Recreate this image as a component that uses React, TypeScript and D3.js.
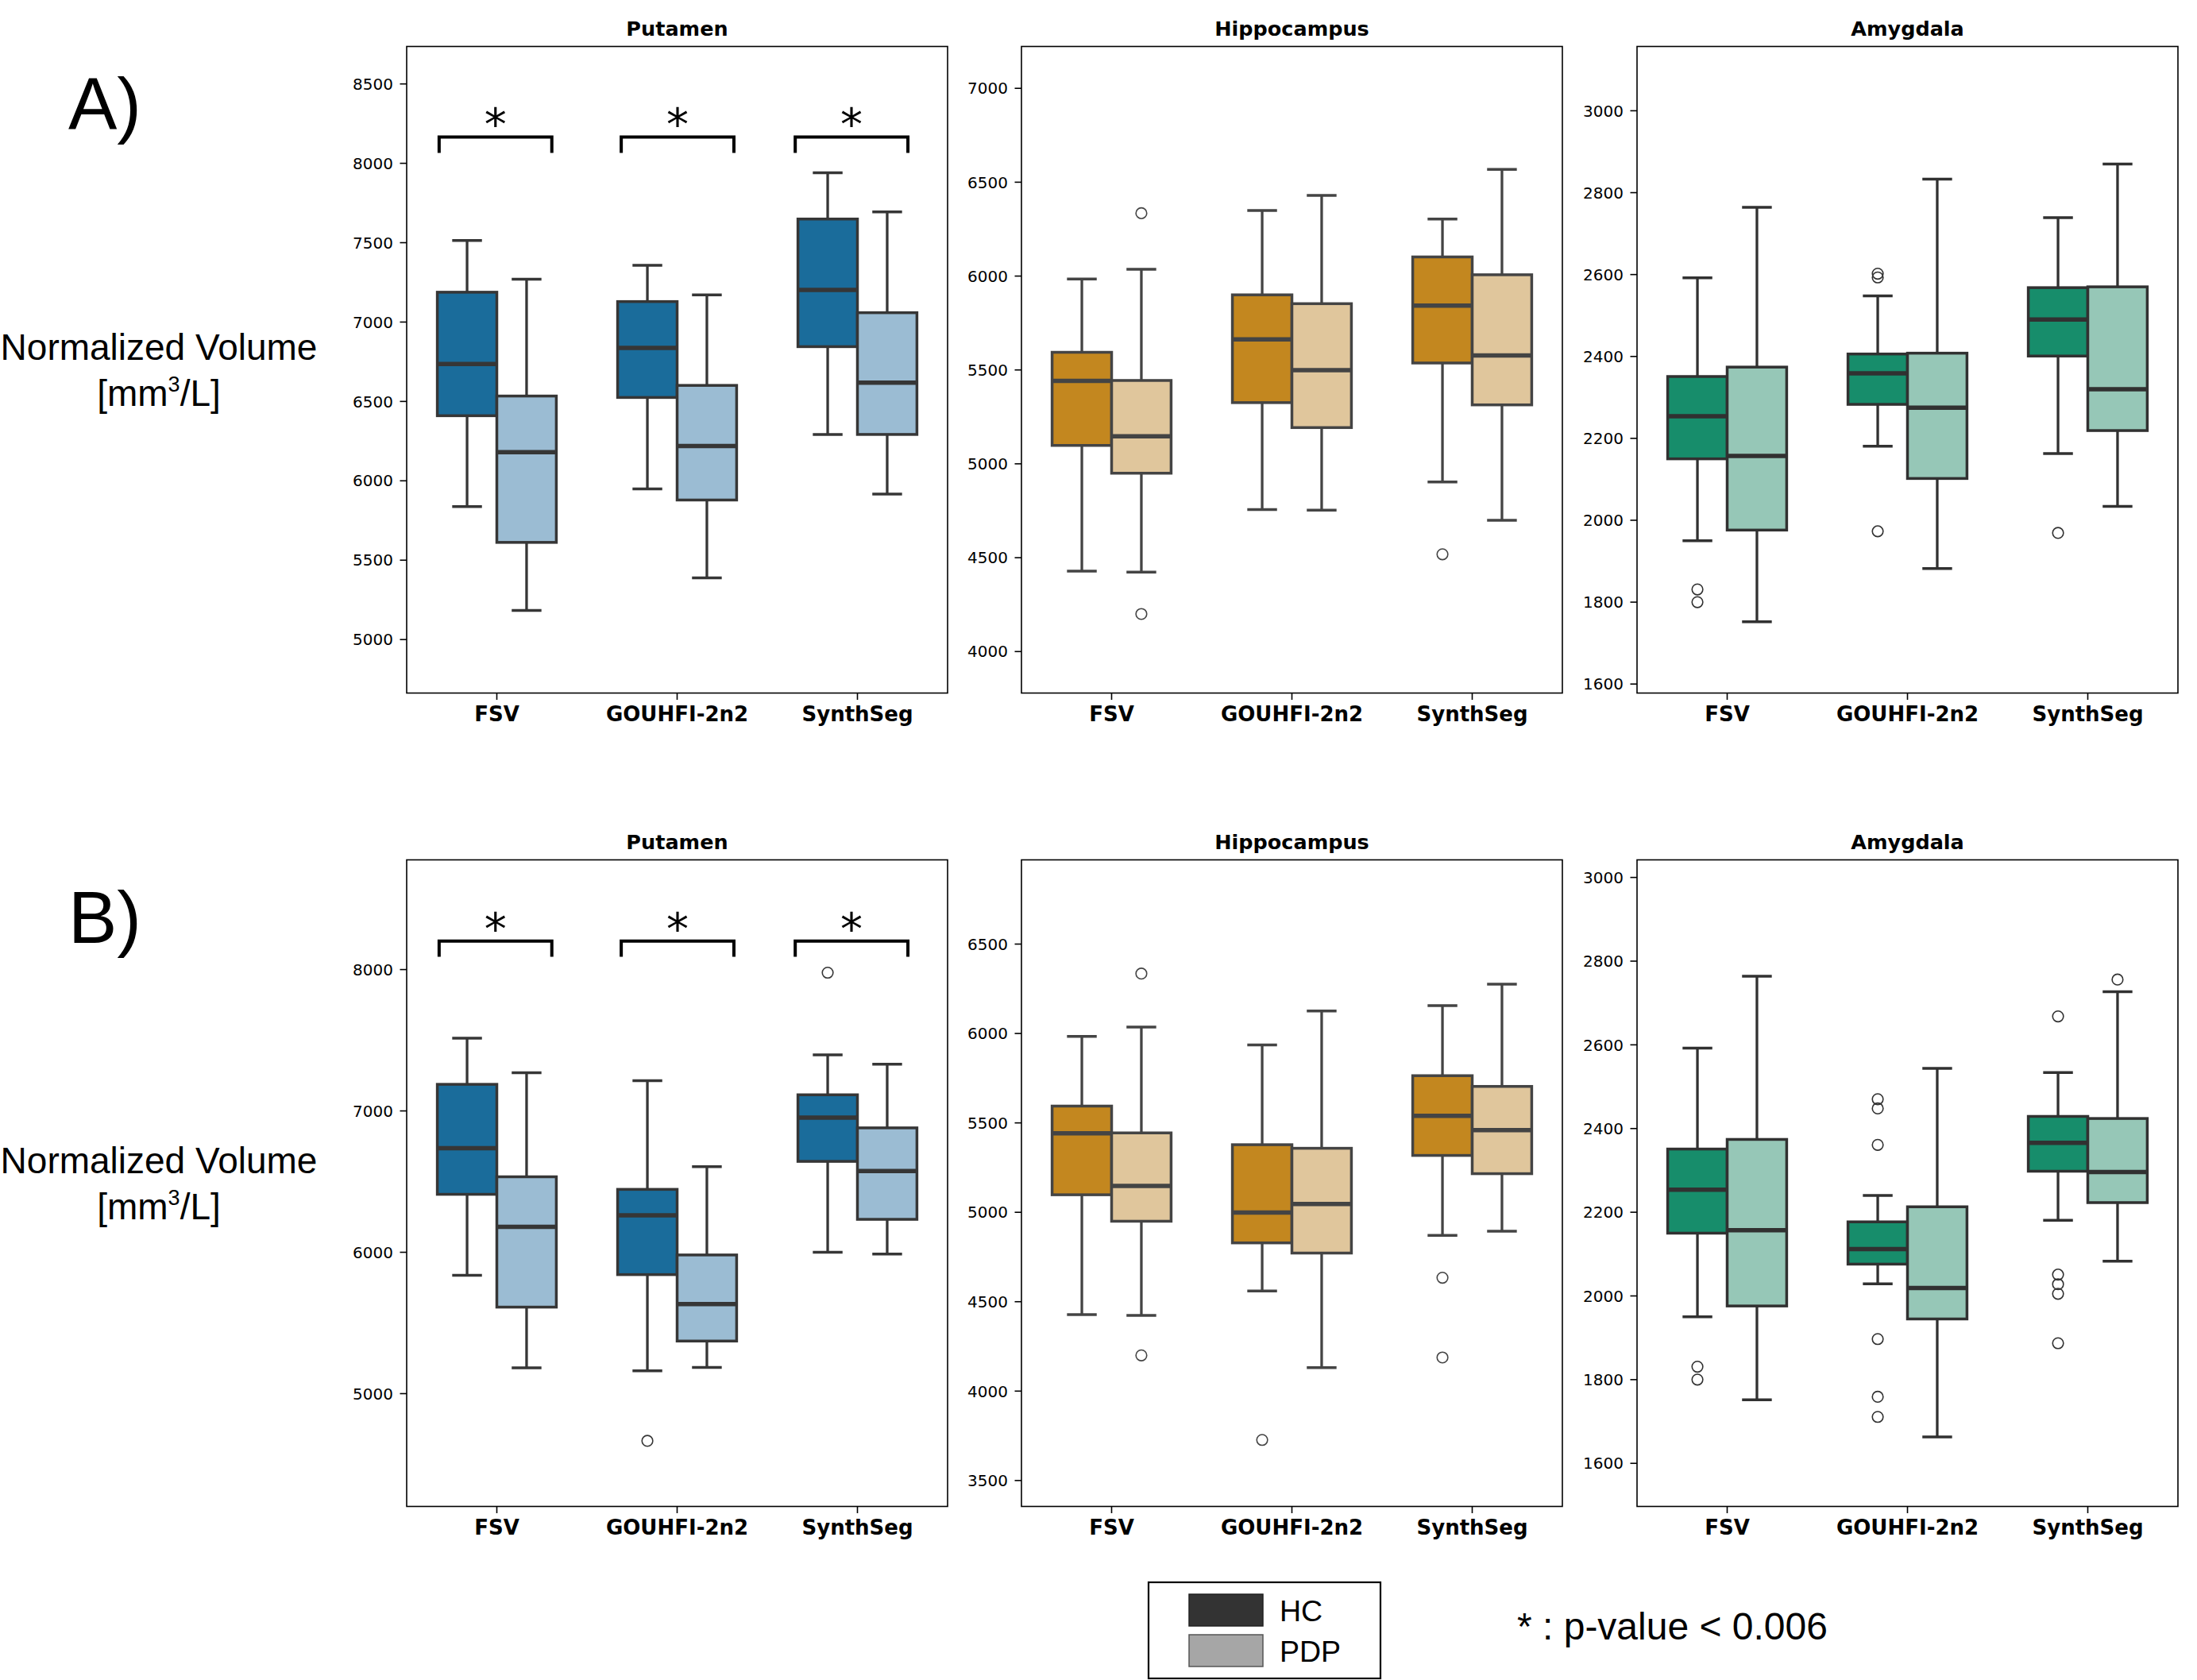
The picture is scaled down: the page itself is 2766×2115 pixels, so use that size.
import { useEffect, useRef } from 'react'
import * as d3 from 'd3'

const methods = ['FSV', 'GOUHFI-2n2', 'SynthSeg']
const groups = ['HC', 'PDP']
const regions = ['Putamen', 'Hippocampus', 'Amygdala']
const rowLabels = ['A)', 'B)']

// five-number summaries: [lower whisker, Q1, median, Q3, upper whisker], one per method
const putamenA_HC = [[5837, 6410, 6736, 7188, 7514], [5949, 6525, 6837, 7129, 7357], [6292, 6845, 7202, 7649, 7941]]
const putamenA_PDP = [[5183, 5612, 6180, 6534, 7270], [5388, 5879, 6219, 6601, 7171], [5916, 6292, 6618, 7059, 7694]]
const putamenA_HC_out = [[], [], []]
const putamenA_PDP_out = [[], [], []]

const hippoA_HC = [[4428, 5098, 5442, 5594, 5984], [4756, 5326, 5663, 5900, 6349], [4903, 5537, 5843, 6102, 6304]]
const hippoA_PDP = [[4423, 4950, 5147, 5444, 6036], [4753, 5193, 5499, 5853, 6430], [4699, 5314, 5577, 6007, 6568]]
const hippoA_HC_out = [[], [], [4518]]
const hippoA_PDP_out = [[6335, 4200], [], []]

const amygA_HC = [[1950, 2150, 2254, 2351, 2592], [2181, 2283, 2359, 2406, 2548], [2163, 2401, 2490, 2568, 2739]]
const amygA_PDP = [[1752, 1976, 2157, 2374, 2764], [1882, 2102, 2275, 2408, 2833], [2034, 2219, 2320, 2570, 2870]]
const amygA_HC_out = [[1831, 1800], [2602, 2593, 1973], [1969]]
const amygA_PDP_out = [[], [], []]

const putamenB_HC = [[5837, 6410, 6736, 7188, 7514], [5161, 5842, 6262, 6445, 7214], [6000, 6643, 6953, 7114, 7397]]
const putamenB_PDP = [[5183, 5612, 6180, 6534, 7270], [5186, 5372, 5634, 5981, 6606], [5987, 6233, 6574, 6880, 7331]]
const putamenB_HC_out = [[], [4666], [7978]]
const putamenB_PDP_out = [[], [], []]

const hippoB_HC = [[4428, 5098, 5442, 5594, 5984], [4560, 4829, 4999, 5378, 5936], [4871, 5318, 5540, 5764, 6156]]
const hippoB_PDP = [[4423, 4950, 5147, 5444, 6036], [4131, 4772, 5046, 5358, 6126], [4894, 5216, 5460, 5704, 6276]]
const hippoB_HC_out = [[], [3727], [4634, 4188]]
const hippoB_PDP_out = [[6335, 4200], [], []]

const amygB_HC = [[1950, 2150, 2254, 2351, 2592], [2029, 2076, 2112, 2177, 2240], [2181, 2298, 2366, 2429, 2534]]
const amygB_PDP = [[1752, 1976, 2157, 2374, 2764], [1663, 1945, 2019, 2213, 2544], [2083, 2223, 2296, 2424, 2727]]
const amygB_HC_out = [[1831, 1800], [2470, 2448, 2361, 1897, 1759, 1711], [2668, 2051, 2028, 2005, 1887]]
const amygB_PDP_out = [[], [], [2756]]

// y limits and ticks per panel
const yLimA = [[4663, 8736], [3779, 7223], [1578, 3157]]
const yLimB = [[4202, 8776], [3355, 6971], [1497, 3042]]
const yTicksA = [
  [5000, 5500, 6000, 6500, 7000, 7500, 8000, 8500],
  [4000, 4500, 5000, 5500, 6000, 6500, 7000],
  [1600, 1800, 2000, 2200, 2400, 2600, 2800, 3000],
]
const yTicksB = [
  [5000, 6000, 7000, 8000],
  [3500, 4000, 4500, 5000, 5500, 6000, 6500],
  [1600, 1800, 2000, 2200, 2400, 2600, 2800, 3000],
]

// significance brackets on Putamen: [leg bottom, bar top], and x extent around each method
const bracketA = [8065, 8166]
const bracketB = [8091, 8202]
const bracketSpan = [[-0.32, 0.305], [-0.31, 0.315], [-0.345, 0.28]]
const sigNote = '* : p-value < 0.006'

const regionColors = [['#1a6c9b', '#9bbcd3'], ['#c3871f', '#e0c69c'], ['#178d6b', '#96c7b7']]
const regionLine = ['#363636', '#444444', '#313131']

export default function App() {
  const svgRef = useRef(null)

  useEffect(() => {
    if (!svgRef.current) return
    const root = d3.select(svgRef.current)
    root.selectAll('*').remove()

    const colLeft = [512, 1286, 2061]
    const rowTop = [58.5, 1082.5]
    const rowShift = 1024
    const pw = 681
    const ph = 814
    const boxW = 0.33

    const rows = [
      {
        stats: [[putamenA_HC, putamenA_PDP], [hippoA_HC, hippoA_PDP], [amygA_HC, amygA_PDP]],
        outs: [[putamenA_HC_out, putamenA_PDP_out], [hippoA_HC_out, hippoA_PDP_out], [amygA_HC_out, amygA_PDP_out]],
        lims: yLimA, ticks: yTicksA, bracket: bracketA,
      },
      {
        stats: [[putamenB_HC, putamenB_PDP], [hippoB_HC, hippoB_PDP], [amygB_HC, amygB_PDP]],
        outs: [[putamenB_HC_out, putamenB_PDP_out], [hippoB_HC_out, hippoB_PDP_out], [amygB_HC_out, amygB_PDP_out]],
        lims: yLimB, ticks: yTicksB, bracket: bracketB,
      },
    ]

    root.append('rect').attr('width', 2766).attr('height', 2115).attr('fill', '#fff')

    rows.forEach((row, r) => {
      // row label and y-axis title
      root.append('text')
        .attr('x', 86).attr('y', 163 + r * rowShift)
        .attr('font-family', 'Liberation Sans, Arial, sans-serif')
        .attr('font-size', 92).attr('fill', '#000')
        .text(rowLabels[r])

      root.append('text')
        .attr('x', 200).attr('y', 453 + r * rowShift)
        .attr('text-anchor', 'middle')
        .attr('font-family', 'Liberation Sans, Arial, sans-serif')
        .attr('font-size', 46).attr('fill', '#000')
        .text('Normalized Volume')

      const unit = root.append('text')
        .attr('x', 200).attr('y', 511 + r * rowShift)
        .attr('text-anchor', 'middle')
        .attr('font-family', 'Liberation Sans, Arial, sans-serif')
        .attr('font-size', 46).attr('fill', '#000')
      unit.append('tspan').text('[mm')
      unit.append('tspan').attr('font-size', 27).attr('dy', -18).text('3')
      unit.append('tspan').attr('dy', 18).text('/L]')

      regions.forEach((region, c) => {
        const left = colLeft[c]
        const top = rowTop[r]
        const x = d3.scaleLinear().domain([-0.5, 2.5]).range([left, left + pw])
        const y = d3.scaleLinear().domain(row.lims[c]).range([top + ph, top])
        const lineCol = regionLine[c]
        const g = root.append('g')

        // title
        g.append('text')
          .attr('x', left + pw / 2).attr('y', top - 13.5)
          .attr('text-anchor', 'middle')
          .attr('font-family', 'DejaVu Sans, sans-serif')
          .attr('font-weight', 'bold').attr('font-size', 25.5)
          .text(region)

        // boxes
        groups.forEach((grp, gi) => {
          const x0 = gi === 0 ? -boxW : 0
          const fill = regionColors[c][gi]
          row.stats[c][gi].forEach((s, mi) => {
            const [lo, q1, med, q3, hi] = s
            const xl = x(mi + x0)
            const xr = x(mi + x0 + boxW)
            const xc = x(mi + x0 + boxW / 2)
            const capHalf = (xr - xl) / 4

            g.append('line').attr('x1', xc).attr('x2', xc).attr('y1', y(q3)).attr('y2', y(hi))
              .attr('stroke', lineCol).attr('stroke-width', 3.3)
            g.append('line').attr('x1', xc).attr('x2', xc).attr('y1', y(q1)).attr('y2', y(lo))
              .attr('stroke', lineCol).attr('stroke-width', 3.3)
            g.append('line').attr('x1', xc - capHalf).attr('x2', xc + capHalf).attr('y1', y(hi)).attr('y2', y(hi))
              .attr('stroke', lineCol).attr('stroke-width', 3.5)
            g.append('line').attr('x1', xc - capHalf).attr('x2', xc + capHalf).attr('y1', y(lo)).attr('y2', y(lo))
              .attr('stroke', lineCol).attr('stroke-width', 3.5)

            g.append('rect')
              .attr('x', xl).attr('y', y(q3))
              .attr('width', xr - xl).attr('height', y(q1) - y(q3))
              .attr('fill', fill).attr('stroke', lineCol).attr('stroke-width', 3.5)

            g.append('line').attr('x1', xl).attr('x2', xr).attr('y1', y(med)).attr('y2', y(med))
              .attr('stroke', lineCol).attr('stroke-width', 5.5)

            row.outs[c][gi][mi].forEach(v => {
              g.append('circle').attr('cx', xc).attr('cy', y(v)).attr('r', 6.8)
                .attr('fill', 'none').attr('stroke', lineCol).attr('stroke-width', 1.6)
            })
          })
        })

        // significance brackets (Putamen only)
        if (c === 0) {
          const [legLow, barTop] = row.bracket
          methods.forEach((m, mi) => {
            const [s0, s1] = bracketSpan[mi]
            const bx1 = x(mi + s0)
            const bx2 = x(mi + s1)
            g.append('path')
              .attr('d', `M${bx1},${y(legLow)}V${y(barTop)}H${bx2}V${y(legLow)}`)
              .attr('fill', 'none').attr('stroke', '#000').attr('stroke-width', 4)
              .attr('stroke-linejoin', 'miter')
            g.append('text')
              .attr('x', (bx1 + bx2) / 2).attr('y', y(barTop) + 4)
              .attr('text-anchor', 'middle')
              .attr('font-family', 'DejaVu Sans, sans-serif')
              .attr('font-size', 56)
              .text('*')
          })
        }

        // frame
        g.append('rect')
          .attr('x', left).attr('y', top).attr('width', pw).attr('height', ph)
          .attr('fill', 'none').attr('stroke', '#000').attr('stroke-width', 1.6)

        // y axis
        row.ticks[c].forEach(t => {
          g.append('line').attr('x1', left - 8.5).attr('x2', left).attr('y1', y(t)).attr('y2', y(t))
            .attr('stroke', '#000').attr('stroke-width', 1.6)
          g.append('text')
            .attr('x', left - 17).attr('y', y(t)).attr('dy', '0.36em')
            .attr('text-anchor', 'end')
            .attr('font-family', 'DejaVu Sans, sans-serif').attr('font-size', 20)
            .text(t)
        })

        // x axis
        methods.forEach((m, mi) => {
          g.append('line').attr('x1', x(mi)).attr('x2', x(mi)).attr('y1', top + ph).attr('y2', top + ph + 8.5)
            .attr('stroke', '#000').attr('stroke-width', 1.6)
          g.append('text')
            .attr('x', x(mi)).attr('y', top + ph + 35.5)
            .attr('text-anchor', 'middle')
            .attr('font-family', 'DejaVu Sans, sans-serif')
            .attr('font-weight', 'bold').attr('font-size', 26)
            .text(m)
        })
      })
    })

    // legend
    const lg = root.append('g')
    lg.append('rect').attr('x', 1446).attr('y', 1992).attr('width', 292).attr('height', 121)
      .attr('fill', '#fff').attr('stroke', '#000').attr('stroke-width', 2.2)
    const patchFill = ['#333333', '#a6a6a6']
    const patchEdge = ['#222222', '#555555']
    groups.forEach((grp, gi) => {
      lg.append('rect').attr('x', 1497).attr('y', 2007 + gi * 51).attr('width', 93).attr('height', 40)
        .attr('fill', patchFill[gi]).attr('stroke', patchEdge[gi]).attr('stroke-width', 1.5)
      lg.append('text').attr('x', 1611).attr('y', 2041 + gi * 51)
        .attr('font-family', 'Liberation Sans, Arial, sans-serif').attr('font-size', 37.5)
        .text(grp)
    })

    root.append('text')
      .attr('x', 1910).attr('y', 2064)
      .attr('font-family', 'Liberation Sans, Arial, sans-serif').attr('font-size', 48)
      .text(sigNote)
  }, [])

  return (
    <svg
      ref={svgRef}
      width={2766}
      height={2115}
      style={{ position: 'absolute', left: 0, top: 0, display: 'block' }}
    />
  )
}
